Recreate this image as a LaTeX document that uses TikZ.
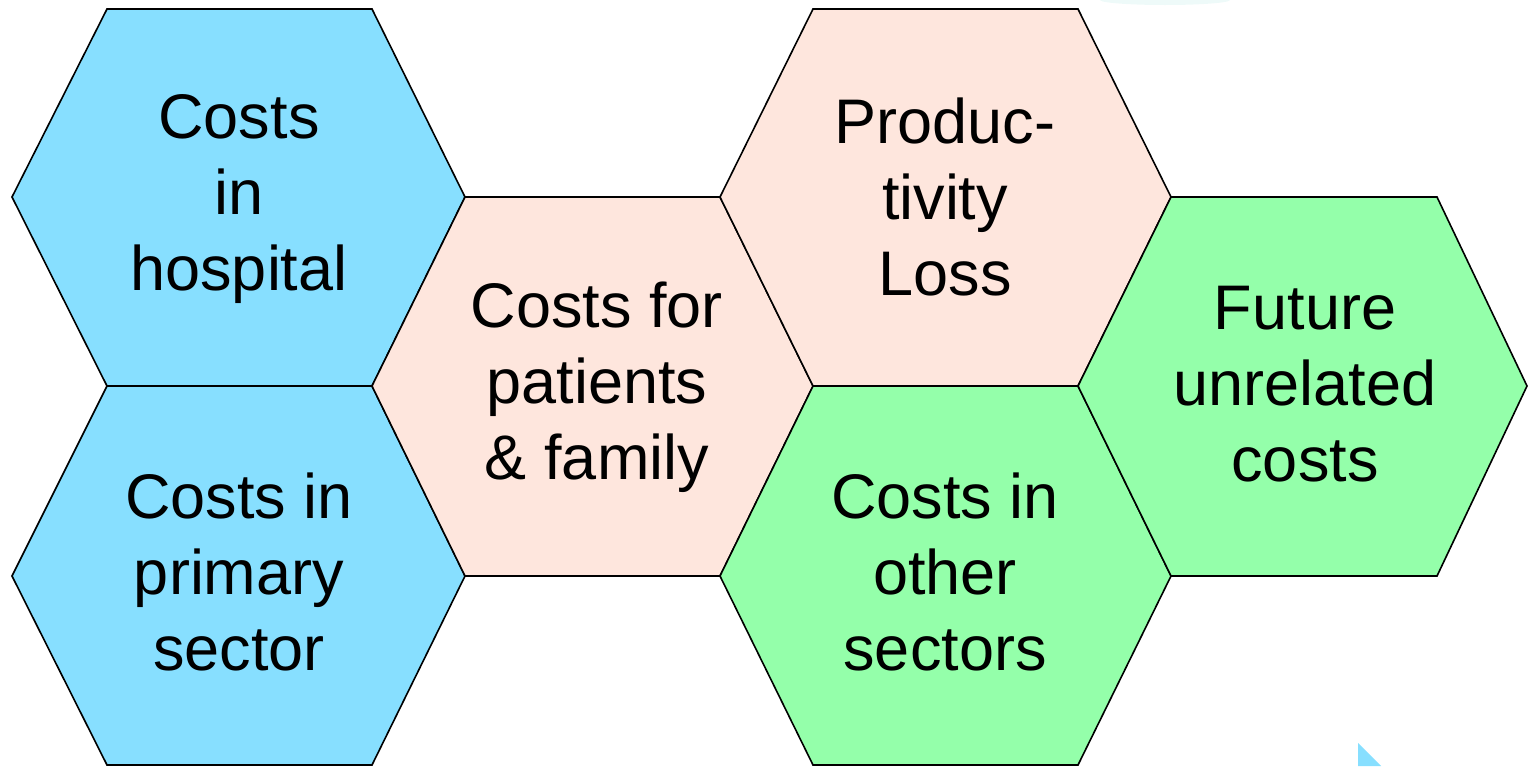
\documentclass[tikz,border=0pt]{standalone}
\usepackage{fontspec}
\setmainfont{Liberation Sans}
\definecolor{hospblue}{RGB}{135,223,255}
\definecolor{peach}{RGB}{254,230,221}
\definecolor{mint}{RGB}{148,255,170}
\definecolor{haze}{RGB}{238,250,249}
\begin{document}
\begin{tikzpicture}[x=1pt,y=-1pt,
  hexedge/.style={draw=black,line width=1.6pt,line join=miter},
  label/.style={align=center,font=\fontsize{63}{76}\selectfont,inner sep=0pt}]
\useasboundingbox (0,0) rectangle (1528,766);
% faint glow at the top edge
\fill[haze] (1165,0) ellipse [x radius=65, y radius=5];
% hexagonal cells, sharing their edges
\path[hexedge,fill=hospblue] (12,197) -- (107,9) -- (372,9) -- (465,197) -- (372,386) -- (107,386) -- cycle;
\path[hexedge,fill=hospblue] (12,576) -- (107,386) -- (372,386) -- (465,576) -- (372,765) -- (107,765) -- cycle;
\path[hexedge,fill=peach] (372,386) -- (465,197) -- (720,197) -- (813,386) -- (720,576) -- (465,576) -- cycle;
\path[hexedge,fill=peach] (720,197) -- (813,9) -- (1078,9) -- (1171,197) -- (1078,386) -- (813,386) -- cycle;
\path[hexedge,fill=mint] (720,576) -- (813,386) -- (1078,386) -- (1171,576) -- (1078,765) -- (813,765) -- cycle;
\path[hexedge,fill=mint] (1078,386) -- (1171,197) -- (1437,197) -- (1527,386) -- (1437,576) -- (1171,576) -- cycle;
% captions
\node[label] (hosp)  at (239,199) {Costs\\in\\hospital};
\node[label] (prim)  at (239,572) {Costs in\\primary\\sector};
\node[label] (pat)   at (597,387) {Costs for\\patients\\\& family};
\node[label] (prod)  at (945,197) {Produc-\\tivity\\Loss};
\node[label] (other) at (945,572) {Costs in\\other\\sectors};
\node[label] (fut)   at (1305,384) {Future\\unrelated\\costs};
% cursor tip at the lower edge
\fill[hospblue] (1358,743) -- (1381,766) -- (1358,766) -- cycle;
\end{tikzpicture}
\end{document}
